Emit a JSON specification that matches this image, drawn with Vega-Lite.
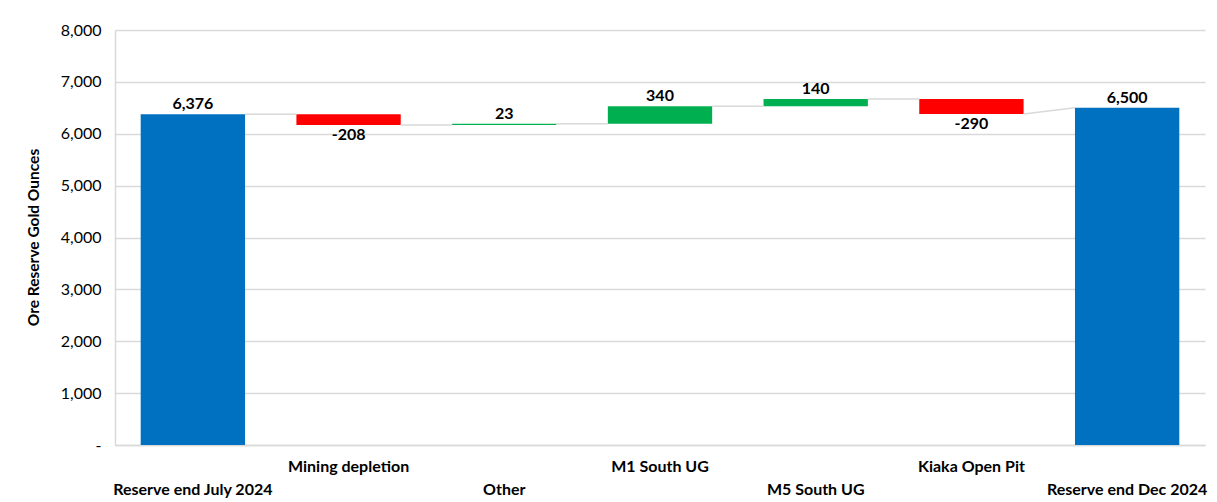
{
  "$schema": "https://vega.github.io/schema/vega-lite/v6.json",
  "width": 1090,
  "height": 415,
  "autosize": {"type": "none"},
  "padding": {"left": 115, "top": 30, "right": 12, "bottom": 57},
  "background": "white",
  "config": {"view": {"stroke": null}, "font": "Lato"},
  "datasets": {
    "bars": [
      {"category": "Reserve end July 2024", "start": 0, "end": 6376, "label": "6,376", "kind": "total"},
      {"category": "Mining depletion", "start": 6376, "end": 6168, "label": "-208", "kind": "decrease"},
      {"category": "Other", "start": 6168, "end": 6191, "label": "23", "kind": "increase"},
      {"category": "M1 South UG", "start": 6191, "end": 6531, "label": "340", "kind": "increase"},
      {"category": "M5 South UG", "start": 6531, "end": 6671, "label": "140", "kind": "increase"},
      {"category": "Kiaka Open Pit", "start": 6671, "end": 6381, "label": "-290", "kind": "decrease"},
      {"category": "Reserve end Dec 2024", "start": 0, "end": 6500, "label": "6,500", "kind": "total"}
    ],
    "links": [
      {"from": "Reserve end July 2024", "to": "Mining depletion", "y1": 6376, "y2": 6376},
      {"from": "Mining depletion", "to": "Other", "y1": 6168, "y2": 6168},
      {"from": "Other", "to": "M1 South UG", "y1": 6191, "y2": 6191},
      {"from": "M1 South UG", "to": "M5 South UG", "y1": 6531, "y2": 6531},
      {"from": "M5 South UG", "to": "Kiaka Open Pit", "y1": 6671, "y2": 6671},
      {"from": "Kiaka Open Pit", "to": "Reserve end Dec 2024", "y1": 6381, "y2": 6500}
    ]
  },
  "layer": [
    {
      "data": {"name": "bars"},
      "mark": {"type": "bar"},
      "encoding": {
        "x": {
          "field": "category",
          "type": "nominal",
          "sort": null,
          "scale": {
            "domain": ["Reserve end July 2024", "Mining depletion", "Other", "M1 South UG", "M5 South UG", "Kiaka Open Pit", "Reserve end Dec 2024"],
            "paddingInner": 0.33,
            "paddingOuter": 0.165
          },
          "axis": {
            "title": null,
            "labelAngle": 0,
            "ticks": false,
            "domainColor": "#D9D9D9",
            "domainWidth": 1.5,
            "labelFont": "Lato",
            "labelFontWeight": "bold",
            "labelFontSize": 16,
            "labelColor": "#000000",
            "labelBaseline": "top",
            "labelPadding": 13,
            "labelLineHeight": 23,
            "labelLimit": 300,
            "labelOverlap": false,
            "labelExpr": "indexof(['Reserve end July 2024','Mining depletion','Other','M1 South UG','M5 South UG','Kiaka Open Pit','Reserve end Dec 2024'], datum.value) % 2 == 0 ? ['', datum.value] : [datum.value]"
          }
        },
        "y": {
          "field": "start",
          "type": "quantitative",
          "scale": {"domain": [0, 8000], "nice": false},
          "axis": {
            "title": "Ore Reserve Gold Ounces",
            "titleFont": "Lato",
            "titleFontSize": 15.5,
            "titleFontWeight": "bold",
            "titleColor": "#000000",
            "titleAngle": 270,
            "titleX": -82,
            "titleY": 207,
            "titleAlign": "center",
            "titleBaseline": "middle",
            "values": [0, 1000, 2000, 3000, 4000, 5000, 6000, 7000, 8000],
            "labelExpr": "datum.value == 0 ? '-' : format(datum.value, ',')",
            "labelFont": "Lato",
            "labelFontSize": 16,
            "labelColor": "#000000",
            "labelPadding": 14,
            "ticks": false,
            "domainColor": "#D9D9D9",
            "domainWidth": 1.5,
            "grid": true,
            "gridColor": "#D9D9D9",
            "gridWidth": 1.5
          }
        },
        "y2": {"field": "end"},
        "color": {
          "field": "kind",
          "type": "nominal",
          "scale": {"domain": ["total", "decrease", "increase"], "range": ["#0070C0", "#FF0000", "#00B050"]},
          "legend": null
        }
      }
    },
    {
      "data": {"name": "links"},
      "mark": {"type": "rule", "color": "#D9D9D9", "strokeWidth": 1.5},
      "encoding": {
        "x": {"field": "from", "type": "nominal", "bandPosition": 1},
        "x2": {"field": "to", "bandPosition": 0},
        "y": {"field": "y1", "type": "quantitative"},
        "y2": {"field": "y2"}
      }
    },
    {
      "data": {"name": "bars"},
      "transform": [{"filter": "datum.kind != 'decrease'"}],
      "mark": {"type": "text", "baseline": "bottom", "dy": -2, "fontSize": 16, "fontWeight": "bold", "font": "Lato", "color": "#000000"},
      "encoding": {
        "x": {"field": "category", "type": "nominal", "bandPosition": 0.5},
        "y": {"field": "end", "type": "quantitative"},
        "text": {"field": "label"}
      }
    },
    {
      "data": {"name": "bars"},
      "transform": [{"filter": "datum.kind == 'decrease'"}],
      "mark": {"type": "text", "baseline": "top", "dy": 2, "fontSize": 16, "fontWeight": "bold", "font": "Lato", "color": "#000000"},
      "encoding": {
        "x": {"field": "category", "type": "nominal", "bandPosition": 0.5},
        "y": {"field": "end", "type": "quantitative"},
        "text": {"field": "label"}
      }
    }
  ]
}
